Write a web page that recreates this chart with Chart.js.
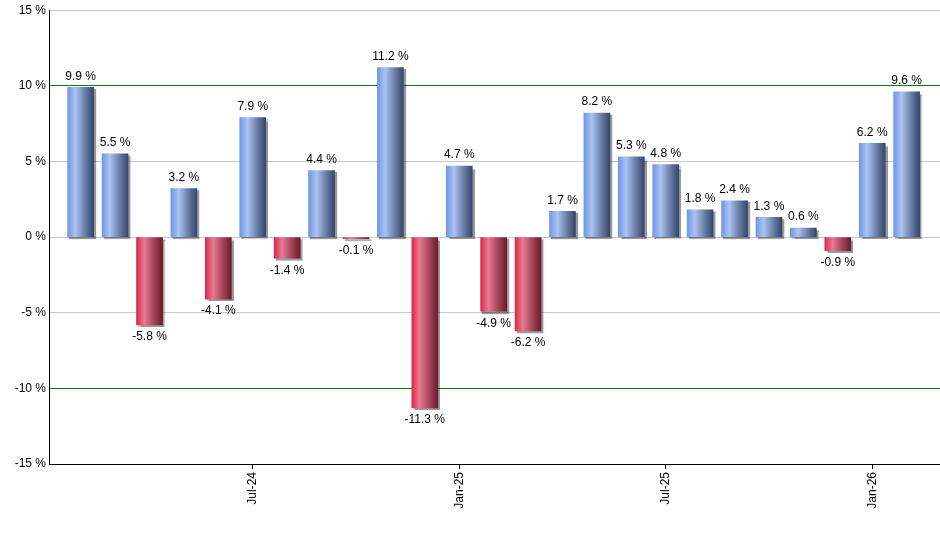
<!DOCTYPE html>
<html>
<head>
<meta charset="utf-8">
<style>
  html, body { margin: 0; padding: 0; background: #fff; }
  #wrap { width: 940px; height: 550px; }
</style>
<script src="https://cdn.jsdelivr.net/npm/chart.js@4.4.1/dist/chart.umd.min.js"></script>
</head>
<body>
<div id="wrap"><canvas id="returnsChart" width="940" height="550"></canvas></div>
<script>
// Monthly returns, Feb-24 .. Feb-26
const months = ['Feb-24', 'Mar-24', 'Apr-24', 'May-24', 'Jun-24', 'Jul-24', 'Aug-24', 'Sep-24', 'Oct-24',
    'Nov-24', 'Dec-24', 'Jan-25', 'Feb-25', 'Mar-25', 'Apr-25', 'May-25', 'Jun-25', 'Jul-25', 'Aug-25',
    'Sep-25', 'Oct-25', 'Nov-25', 'Dec-25', 'Jan-26', 'Feb-26'];
const returns = [9.9, 5.5, -5.8, 3.2, -4.1, 7.9, -1.4, 4.4, -0.1, 11.2, -11.3, 4.7, -4.9, -6.2,
    1.7, 8.2, 5.3, 4.8, 1.8, 2.4, 1.3, 0.6, -0.9, 6.2, 9.6];
const shownTicks = ['Jul-24', 'Jan-25', 'Jul-25', 'Jan-26'];
const yTicks = [-15, -10, -5, 0, 5, 10, 15];
const markerLines = [10, -10];

const FONT = "'Liberation Sans', Arial, sans-serif";
const BAR_W = 26;

function barGradient(context) {
    const chart = context.chart;
    const i = context.dataIndex;
    const fallback = returns[i] < 0 ? '#d04060' : '#7a9fe6';
    if (i == null || !chart.scales.x || !chart.chartArea) return fallback;
    const x = chart.scales.x.getPixelForValue(i);
    if (!isFinite(x)) return fallback;
    const g = chart.ctx.createLinearGradient(x - BAR_W / 2, 0, x + BAR_W / 2, 0);
    if (returns[i] >= 0) {
        g.addColorStop(0, '#6f97e4');
        g.addColorStop(0.3, '#abc3f2');
        g.addColorStop(0.65, '#6d82aa');
        g.addColorStop(1, '#34466c');
    } else {
        g.addColorStop(0, '#d92a4e');
        g.addColorStop(0.3, '#e87a92');
        g.addColorStop(0.65, '#a8485c');
        g.addColorStop(1, '#6c1a2c');
    }
    return g;
}

// Shadow under bars
const barShadow = {
    id: 'barShadow',
    beforeDatasetsDraw(chart) {
        const c = chart.ctx;
        c.save();
        c.shadowColor = 'rgba(0, 0, 0, 0.4)';
        c.shadowOffsetX = 2;
        c.shadowOffsetY = 2;
        c.shadowBlur = 1;
    },
    afterDatasetsDraw(chart) {
        chart.ctx.restore();
    }
};

// Value labels
const valueLabels = {
    id: 'valueLabels',
    afterDatasetsDraw(chart) {
        const c = chart.ctx;
        const meta = chart.getDatasetMeta(0);
        c.save();
        c.font = '12px ' + FONT;
        c.fillStyle = '#000';
        c.textAlign = 'center';
        meta.data.forEach((bar, i) => {
            const v = returns[i];
            const txt = v.toFixed(1) + ' %';
            if (v >= 0) {
                c.textBaseline = 'bottom';
                c.fillText(txt, bar.x, bar.y - 5);
            } else {
                c.textBaseline = 'top';
                c.fillText(txt, bar.x, bar.y + 6);
            }
        });
        c.restore();
    }
};

const ctx = document.getElementById('returnsChart').getContext('2d');
const returnsChart = new Chart(ctx, {
    type: 'bar',
    data: {
        datasets: [{
            data: returns.map((v, i) => ({ x: i, y: v })),
            backgroundColor: barGradient,
            borderWidth: 0,
            barThickness: BAR_W
        }]
    },
    options: {
        responsive: false,
        animation: false,
        devicePixelRatio: 1,
        layout: { padding: { top: 9, right: 0, left: 0, bottom: 0 } },
        plugins: {
            legend: { display: false },
            tooltip: { enabled: false }
        },
        scales: {
            x: {
                type: 'linear',
                offset: false,
                min: -0.92,
                max: 24.97,
                afterFit(scale) { scale.height = 86; },
                afterBuildTicks(scale) {
                    scale.ticks = shownTicks.map(m => ({ value: months.indexOf(m) }));
                },
                grid: {
                    offset: false,
                    drawOnChartArea: false,
                    drawTicks: true,
                    tickLength: 5,
                    color: '#000'
                },
                border: { display: true, color: '#000', width: 1 },
                ticks: {
                    autoSkip: false,
                    minRotation: 90,
                    maxRotation: 90,
                    padding: 3,
                    color: '#000',
                    font: { family: FONT, size: 12 },
                    callback: v => months[v]
                }
            },
            y: {
                min: yTicks[0],
                max: yTicks[yTicks.length - 1],
                afterFit(scale) { scale.width = 49; },
                afterBuildTicks(scale) {
                    scale.ticks = yTicks.map(v => ({ value: v }));
                },
                grid: {
                    drawTicks: false,
                    color: c => markerLines.includes(c.tick.value) ? '#008000' : '#c8c8c8',
                    lineWidth: 1
                },
                border: { display: true, color: '#000', width: 1 },
                ticks: {
                    padding: 3,
                    color: '#000',
                    font: { family: FONT, size: 12 },
                    callback: v => v + ' %'
                }
            }
        }
    },
    plugins: [barShadow, valueLabels]
});
</script>
</body>
</html>
